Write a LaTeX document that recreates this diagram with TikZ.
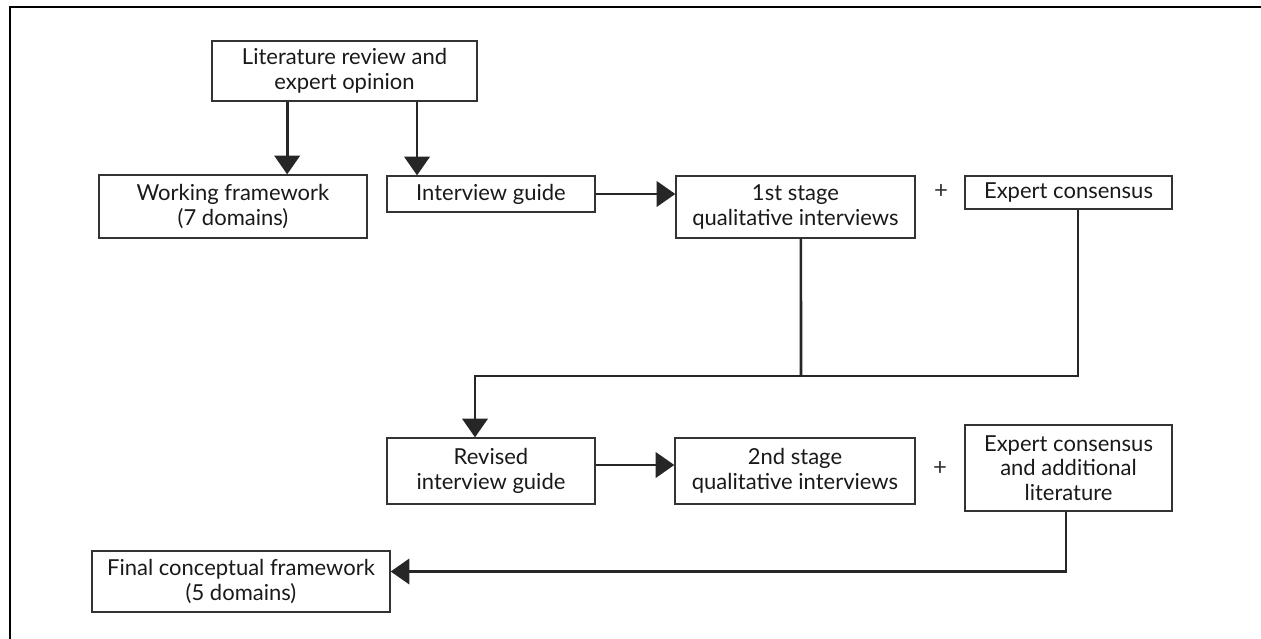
\documentclass[tikz,border=0pt]{standalone}
\usepackage{fontspec}
\setmainfont{Lato}
\usetikzlibrary{arrows.meta,positioning}

\begin{document}
\begin{tikzpicture}[x=0.75pt,y=-0.75pt,>={Triangle[length=14pt 0,width=19pt 0]},
  box/.style={draw=black!80,line width=1pt,inner sep=2pt,align=center,text=black!90,font=\fontsize{16.5}{18.5}\selectfont},
  link/.style={line width=2pt,black!85},
  plus/.style={font=\fontsize{18}{18}\selectfont,black!80}]
  \useasboundingbox (0,0) rectangle (1261,639);
  \draw[line width=1.3pt] (1261,7) -- (10,7) -- (10,639);
  % first stage
  \node[box,minimum width=198.75pt,minimum height=45pt] (lit) at (344.5,71) {Literature review and\\expert opinion};
  \node[box,minimum width=201pt,minimum height=47.25pt] (work) at (233,206.5) {Working framework\\(7 domains)};
  \node[box,minimum width=156pt,minimum height=27pt] (guide) at (491,194) {Interview guide};
  \node[box,minimum width=179.25pt,minimum height=46.5pt] (first) at (795.5,207) {1st stage\\qualitative interviews};
  \node[plus] (p1) at (941,192) {+};
  \node[box,minimum width=155.25pt,minimum height=24.75pt] (cons) at (1068.5,192.5) {Expert consensus};
  % second stage
  \node[box,minimum width=156pt,minimum height=49.5pt] (rev) at (491,471) {Revised\\interview guide};
  \node[box,minimum width=180pt,minimum height=49.5pt] (second) at (795,471) {2nd stage\\qualitative interviews};
  \node[plus] (p2) at (940,468) {+};
  \node[box,minimum width=155.25pt,minimum height=64.5pt] (cons2) at (1068.5,468) {Expert consensus\\and additional\\literature};
  \node[box,minimum width=223.5pt,minimum height=45.75pt] (final) at (241,581.5) {Final conceptual framework\\(5 domains)};
  \coordinate (join) at (801,376);
  % arrows
  \draw[link,->] ([xshift=-43pt]lit.south) -- ([xshift=-43pt]lit.south |- work.north);
  \draw[link,->] ([xshift=54.4pt]lit.south) -- ([xshift=54.4pt]lit.south |- guide.north);
  \draw[link,->] (guide.east) -- (guide.east -| first.west);
  \draw[link] ([xshift=4pt]first.south) -- (join);
  \draw[link,->] ([xshift=7pt]cons.south) |- (join) -| ([xshift=-12pt]rev.north);
  \draw[link,->] ([yshift=4.5pt]rev.east) -- ([yshift=4.5pt]rev.east -| second.west);
  \draw[link,->] ([xshift=-2pt]cons2.south) |- ([yshift=7.5pt]final.east);
\end{tikzpicture}
\end{document}
